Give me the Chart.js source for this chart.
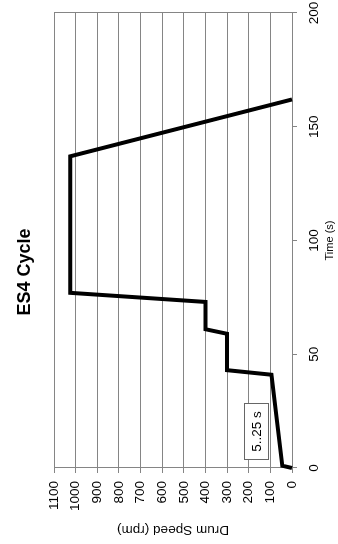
<!DOCTYPE html>
<html>
<head>
<meta charset="utf-8">
<title>ES4 Cycle</title>
<script src="https://cdn.jsdelivr.net/npm/chart.js@4/dist/chart.umd.min.js"></script>
<style>
  html, body { margin: 0; padding: 0; background: #fff; overflow: hidden; }
  /* the chart is drawn landscape and turned a quarter turn to the left */
  #caixa {
    position: absolute; left: 0; top: 0;
    width: 544px; height: 338px;
    transform-origin: 0 0;
    transform: translate(0, 544px) rotate(-90deg);
  }
</style>
</head>
<body>
<div id="caixa"><canvas id="grafico" width="544" height="338"></canvas></div>
<script>
// dados
const tempos = [0, 1, 41, 43, 59, 61, 73, 77, 137, 162];          // Time (s)
const velocidades = [0, 45, 95, 300, 300, 400, 400, 1025, 1025, 0]; // Drum Speed (rpm)

// eixos
const ticksTempo = [0, 50, 100, 150, 200];
const ticksVelocidade = [0, 100, 200, 300, 400, 500, 600, 700, 800, 900, 1000, 1100];

// caixa de texto no grafico
const notaTexto = '5..25 s';
const notaTempo = 16;
const notaVelocidade = 166;

const fonte = '"Liberation Sans", Arial, sans-serif';
const cinza = '#858585';

Chart.defaults.color = '#000';
Chart.defaults.font.family = fonte;

// desenha a caixa "5..25 s"
const notaPlugin = {
  id: 'nota',
  afterDatasetsDraw(chart) {
    let ctx = chart.ctx;
    let x = chart.scales.x.getPixelForValue(notaTempo);
    let y = chart.scales.y.getPixelForValue(notaVelocidade);
    ctx.save();
    ctx.font = '13.5px ' + fonte;
    let w = Math.round(ctx.measureText(notaTexto).width + 15);
    let h = 24;
    let x0 = Math.round(x - w / 2) + 0.5;
    let y0 = Math.round(y - h / 2) + 0.5;
    ctx.fillStyle = '#fff';
    ctx.fillRect(x0, y0, w, h);
    ctx.strokeStyle = '#666';
    ctx.lineWidth = 1;
    ctx.strokeRect(x0, y0, w, h);
    ctx.fillStyle = '#000';
    ctx.textAlign = 'center';
    ctx.textBaseline = 'middle';
    ctx.fillText(notaTexto, x, y + 1);
    ctx.restore();
  }
};

let pontos = [];
for (let i = 0; i < tempos.length; i++) {
  pontos.push({ x: tempos[i], y: velocidades[i] });
}

const config = {
  type: 'line',
  data: {
    datasets: [{
      label: 'ES4',
      data: pontos,
      borderColor: '#000',
      borderWidth: 4,
      pointRadius: 0,
      tension: 0,
      fill: false,
      clip: false
    }]
  },
  options: {
    responsive: false,
    animation: false,
    layout: { padding: 0 },
    plugins: {
      legend: { display: false },
      tooltip: { enabled: false },
      title: {
        display: true,
        text: 'ES4 Cycle',
        color: '#000',
        font: { family: fonte, size: 18, weight: 'bold' },
        padding: { top: 14, bottom: 18.4 }
      }
    },
    scales: {
      x: {
        type: 'linear',
        min: ticksTempo[0],
        max: ticksTempo[ticksTempo.length - 1],
        afterBuildTicks: function (eixo) {
          eixo.ticks = ticksTempo.map(v => ({ value: v }));
        },
        afterFit: function (eixo) {
          eixo.height = 46;
          eixo.paddingRight = 13; // espaco a direita do grafico
        },
        ticks: { font: { size: 13.5 }, padding: 9, maxRotation: 0, callback: v => String(v) },
        grid: {
          color: ctx => (ctx.tick && ctx.tick.value === 200) ? cinza : 'rgba(0,0,0,0)',
          tickColor: cinza,
          tickLength: 5
        },
        border: { color: cinza },
        title: {
          display: true,
          text: 'Time (s)',
          font: { size: 11 },
          padding: { top: 0, bottom: 1 }
        }
      },
      y: {
        min: ticksVelocidade[0],
        max: ticksVelocidade[ticksVelocidade.length - 1],
        afterBuildTicks: function (eixo) {
          eixo.ticks = ticksVelocidade.map(v => ({ value: v }));
        },
        afterFit: function (eixo) { eixo.width = 76; },
        ticks: { font: { size: 13.5 }, padding: 8, callback: v => String(v) },
        grid: { color: cinza, tickColor: cinza, tickLength: 5 },
        border: { color: cinza },
        title: {
          display: true,
          text: 'Drum Speed (rpm)',
          font: { size: 13.5 },
          padding: { top: 6, bottom: 0 }
        }
      }
    }
  },
  plugins: [notaPlugin]
};

let grafico = new Chart(document.getElementById('grafico'), config);
</script>
</body>
</html>
